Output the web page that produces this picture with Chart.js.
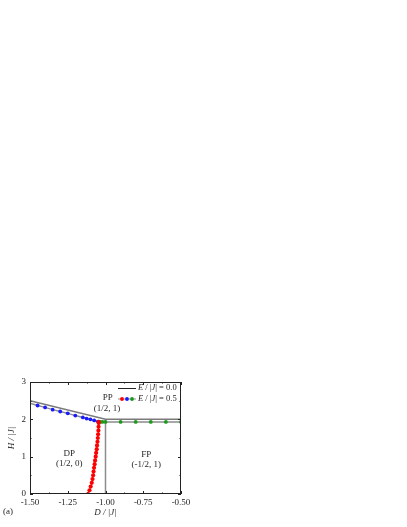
<!DOCTYPE html>
<html>
<head>
<meta charset="utf-8">
<script src="https://cdn.jsdelivr.net/npm/chart.js@4"></script>
<style>
  html, body { margin: 0; padding: 0; background: #fff; }
  #wrap { position: relative; width: 407px; height: 527px; }
</style>
</head>
<body>
<div id="wrap"><canvas id="chart"></canvas></div>
<script>
// E/|J| = 0.0 phase boundaries
const e0D = [-1.5, -1.0, -0.5];
const e0H = [2.5, 2.0, 2.0];
const e0VertD = [-1.0, -1.0];
const e0VertH = [0, 2.0];

// E/|J| = 0.5 : DP-PP boundary (blue)
const blueD = [-1.5, -1.45, -1.40, -1.35, -1.30, -1.25, -1.20, -1.15, -1.125, -1.10, -1.075, -1.05];
const blueH = [2.43, 2.37, 2.32, 2.26, 2.21, 2.16, 2.10, 2.05, 2.02, 2.00, 1.97, 1.94];

// E/|J| = 0.5 : DP-FP boundary (red)
const redD = [-1.115, -1.106, -1.098, -1.091, -1.086, -1.082, -1.079, -1.076, -1.072, -1.069, -1.065,
  -1.062, -1.058, -1.056, -1.053, -1.051, -1.049, -1.047, -1.046, -1.045, -1.045];
const redH = [0.0, 0.1, 0.2, 0.3, 0.4, 0.5, 0.6, 0.7, 0.8, 0.9, 1.0,
  1.1, 1.2, 1.3, 1.4, 1.5, 1.6, 1.7, 1.8, 1.9, 1.93];

// E/|J| = 0.5 : FP-PP boundary (green)
const greenD = [-1.035, -1.02, -1.0, -0.9, -0.8, -0.7, -0.6, -0.5];
const greenH = [1.93, 1.93, 1.93, 1.93, 1.93, 1.93, 1.93, 1.93];

const xTicks = [-1.5, -1.25, -1.0, -0.75, -0.5];
const yTicks = [0, 1, 2, 3];

const regionLabels = [
  { d: -0.985, h: 2.58, text: "PP" },
  { d: -0.99, h: 2.28, text: "(1/2, 1)" },
  { d: -1.24, h: 1.07, text: "DP" },
  { d: -1.24, h: 0.80, text: "(1/2, 0)" },
  { d: -0.73, h: 1.05, text: "FP" },
  { d: -0.73, h: 0.785, text: "(-1/2, 1)" }
];

const SERIF = "'Liberation Serif', 'DejaVu Serif', serif";
const GRAY = "#8c8c8c";
const INK = "#262626";

function pts(xs, ys) {
  return xs.map((x, i) => ({ x: x, y: ys[i] }));
}

// frame, inward ticks, region labels, legend, panel tag
const decorations = {
  id: "decorations",
  afterDatasetsDraw(chart) {
    const ctx = chart.ctx;
    const a = chart.chartArea;
    const xs = chart.scales.x;
    const ys = chart.scales.y;
    ctx.save();
    ctx.strokeStyle = "#222";
    ctx.lineWidth = 1;
    ctx.strokeRect(a.left + 0.5, a.top + 0.5, a.right - a.left - 1, a.bottom - a.top - 1);

    ctx.beginPath();
    for (let v = -1.5; v <= -0.5 + 1e-9; v += 0.125) {
      const px = Math.round(xs.getPixelForValue(v)) + 0.5;
      const len = Math.abs((v * 4) - Math.round(v * 4)) < 1e-6 ? 3 : 1.5;
      ctx.moveTo(px, a.bottom);
      ctx.lineTo(px, a.bottom - len);
      ctx.moveTo(px, a.top);
      ctx.lineTo(px, a.top + len);
    }
    for (let v = 0; v <= 3 + 1e-9; v += 0.5) {
      const py = Math.round(ys.getPixelForValue(v)) + 0.5;
      const len = Math.abs(v - Math.round(v)) < 1e-6 ? 3 : 1.5;
      ctx.moveTo(a.left, py);
      ctx.lineTo(a.left + len, py);
      ctx.moveTo(a.right, py);
      ctx.lineTo(a.right - len, py);
    }
    ctx.stroke();

    ctx.fillStyle = INK;
    ctx.font = "9px " + SERIF;
    ctx.textAlign = "center";
    ctx.textBaseline = "middle";
    regionLabels.forEach((r) => {
      ctx.fillText(r.text, xs.getPixelForValue(r.d), ys.getPixelForValue(r.h));
    });

    // legend
    const lx0 = a.right - 63, lx1 = a.right - 45;
    const ly0 = a.top + 6, ly1 = a.top + 17;
    ctx.strokeStyle = "#222";
    ctx.lineWidth = 1;
    ctx.beginPath();
    ctx.moveTo(lx0, ly0 + 0.5);
    ctx.lineTo(lx1, ly0 + 0.5);
    ctx.stroke();
    ctx.strokeStyle = GRAY;
    ctx.beginPath();
    ctx.moveTo(lx0, ly1);
    ctx.lineTo(lx1, ly1);
    ctx.stroke();
    ["#ff0000", "#1a1aff", "#1a9a1a"].forEach((c, i) => {
      ctx.fillStyle = c;
      ctx.beginPath();
      ctx.arc(lx0 + 4 + i * 5, ly1, 1.9, 0, Math.PI * 2);
      ctx.fill();
    });
    ctx.fillStyle = INK;
    ctx.textAlign = "left";
    const FS = "8.5px ";
    const drawLegendText = (y, val) => {
      let x = lx1 + 2;
      ctx.font = "italic " + FS + SERIF;
      ctx.fillText("E", x, y); x += ctx.measureText("E").width;
      ctx.font = FS + SERIF;
      ctx.fillText(" / |", x, y); x += ctx.measureText(" / |").width;
      ctx.font = "italic " + FS + SERIF;
      ctx.fillText("J", x, y); x += ctx.measureText("J").width;
      ctx.font = FS + SERIF;
      ctx.fillText("| = " + val, x, y);
    };
    drawLegendText(ly0, "0.0");
    drawLegendText(ly1, "0.5");

    ctx.font = "9px " + SERIF;
    ctx.fillText("(a)", 3, 512);
    ctx.restore();
  }
};

const lineDefaults = { showLine: true, fill: false, tension: 0 };

new Chart(document.getElementById("chart"), {
  type: "scatter",
  data: {
    datasets: [
      Object.assign({}, lineDefaults, {
        label: "red", data: pts(redD, redH), order: 1,
        borderColor: GRAY, borderWidth: 1,
        pointRadius: 2.1, pointBackgroundColor: "#ff0000", pointBorderWidth: 0
      }),
      Object.assign({}, lineDefaults, {
        label: "blue", data: pts(blueD, blueH), order: 2, showLine: false,
        pointRadius: (c) => (c.dataIndex === 0 ? 0 : 1.9),
        pointBackgroundColor: "#1a1aff", pointBorderWidth: 0
      }),
      Object.assign({}, lineDefaults, {
        label: "green", data: pts(greenD, greenH), order: 3, showLine: false,
        pointRadius: 1.9, pointBackgroundColor: "#1a9a1a", pointBorderWidth: 0
      }),
      Object.assign({}, lineDefaults, {
        label: "E=0.5 boundary", data: pts(blueD.concat(greenD), blueH.concat(greenH)), order: 4,
        borderColor: GRAY, borderWidth: 1.5, pointRadius: 0
      }),
      Object.assign({}, lineDefaults, {
        label: "E=0.0", data: pts(e0D, e0H), order: 5,
        borderColor: "#7a7a7a", borderWidth: 1.5, pointRadius: 0
      }),
      Object.assign({}, lineDefaults, {
        label: "E=0.0 vertical", data: pts(e0VertD, e0VertH), order: 6,
        borderColor: GRAY, borderWidth: 1.5, pointRadius: 0
      })
    ]
  },
  options: {
    responsive: true,
    maintainAspectRatio: false,
    animation: false,
    layout: { padding: { left: 0, top: 382, right: 226, bottom: 0 } },
    plugins: { legend: { display: false }, tooltip: { enabled: false } },
    scales: {
      x: {
        type: "linear", min: -1.5, max: -0.5,
        afterBuildTicks: (s) => { s.ticks = xTicks.map((v) => ({ value: v })); },
        afterFit: (s) => { s.height = 33; },
        grid: { display: false, drawTicks: false, tickLength: 0 }, border: { display: false },
        ticks: {
          color: INK, padding: 3, maxRotation: 0,
          font: { family: SERIF, size: 9 },
          callback: (v) => v.toFixed(2)
        },
        title: {
          display: true, text: "D / |J|", color: INK,
          font: { family: SERIF, size: 9, style: "italic" },
          padding: { top: 0, bottom: 9 }
        }
      },
      y: {
        type: "linear", min: 0, max: 3,
        afterBuildTicks: (s) => { s.ticks = yTicks.map((v) => ({ value: v })); },
        afterFit: (s) => { s.width = 30; },
        grid: { display: false, drawTicks: false, tickLength: 0 }, border: { display: false },
        ticks: {
          color: INK, padding: 4,
          font: { family: SERIF, size: 9 },
          callback: (v) => String(v)
        },
        title: {
          display: true, text: "H / |J|", color: INK,
          font: { family: SERIF, size: 9, style: "italic" },
          padding: { top: 6, bottom: 0 }
        }
      }
    }
  },
  plugins: [decorations]
});
</script>
</body>
</html>
